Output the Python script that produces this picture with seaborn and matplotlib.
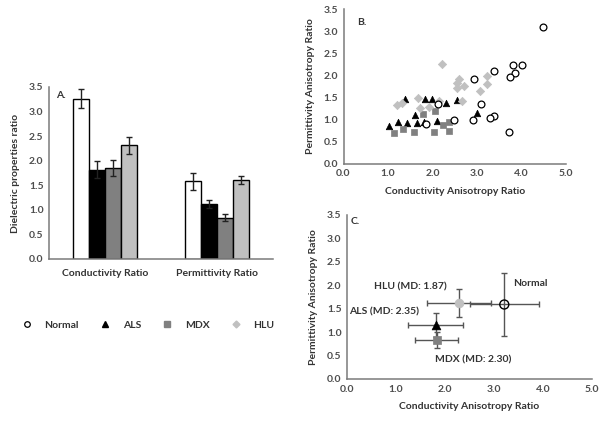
import numpy as np
import pandas as pd
import matplotlib
matplotlib.use("Agg")
import matplotlib.pyplot as plt
from matplotlib.lines import Line2D
import seaborn as sns

sns.set_style("white")
plt.rcParams['font.family'] = ['Lato', 'DejaVu Sans']
plt.rcParams['font.weight'] = 'bold'

# ---------------- data ----------------
groups = ["Normal", "ALS", "MDX", "HLU"]
ratio_categories = ["Conductivity Ratio", "Permittivity Ratio"]
cond_means = [3.26, 1.82, 1.85, 2.31]
cond_err = [0.19, 0.17, 0.16, 0.17]
perm_means = [1.58, 1.12, 0.84, 1.60]
perm_err = [0.18, 0.09, 0.07, 0.08]

normal_x = [4.48, 3.80, 4.00, 3.85, 3.74, 3.39, 2.94, 3.10, 2.12, 3.39, 3.30, 2.92, 2.48, 1.86, 3.72]
normal_y = [3.09, 2.24, 2.24, 2.06, 1.97, 2.10, 1.91, 1.35, 1.36, 1.08, 1.03, 1.00, 0.99, 0.90, 0.71]
als_x = [1.39, 1.83, 1.98, 2.31, 2.56, 1.02, 1.22, 1.43, 1.60, 1.66, 1.80, 2.10, 3.01]
als_y = [1.47, 1.47, 1.47, 1.37, 1.44, 0.86, 0.95, 0.92, 1.10, 0.92, 0.95, 0.97, 1.14]
mdx_x = [1.13, 1.34, 1.58, 1.79, 2.05, 2.03, 2.24, 2.36, 2.36]
mdx_y = [0.69, 0.79, 0.71, 1.13, 1.20, 0.71, 0.88, 0.95, 0.75]
hlu_x = [1.21, 1.32, 1.68, 1.71, 1.92, 2.14, 2.21, 2.59, 2.55, 2.70, 2.55, 3.22, 3.22, 3.07, 2.66]
hlu_y = [1.33, 1.38, 1.48, 1.27, 1.28, 1.43, 2.25, 1.91, 1.84, 1.76, 1.72, 1.99, 1.80, 1.65, 1.41]

mean_x = [3.21, 1.81, 1.83, 2.29]
mean_y = [1.59, 1.15, 0.84, 1.63]
mean_xerr = [0.71, 0.56, 0.44, 0.65]
mean_yerr = [0.68, 0.26, 0.17, 0.30]
c_labels = ["Normal", "ALS (MD: 2.35)", "MDX (MD: 2.30)", "HLU (MD: 1.87)"]

x_ticks = [0.0, 1.0, 2.0, 3.0, 4.0, 5.0]
y_ticks = [0.0, 0.5, 1.0, 1.5, 2.0, 2.5, 3.0, 3.5]

# ---------------- styles ----------------
face = {"Normal": "white", "ALS": "black", "MDX": "#808080", "HLU": "#c0c0c0"}
markers = {"Normal": "o", "ALS": "^", "MDX": "s", "HLU": "D"}
txt = "#333333"
tick_col = "#4d4d4d"
fs = 7.5
fw = "bold"

W, H = 602, 421
fig = plt.figure(figsize=(W / 100, H / 100), dpi=100)
axA = fig.add_axes([49 / W, 1 - 259 / H, (273 - 49) / W, (259 - 87) / H])
axB = fig.add_axes([343.5 / W, 1 - 163.7 / H, (566 - 343.5) / W, (163.7 - 9.3) / H])
axC = fig.add_axes([347 / W, 1 - 379 / H, (592 - 347) / W, (379 - 215) / H])


def style(ax):
    for s in ["top", "right"]:
        ax.spines[s].set_visible(False)
    for s in ["left", "bottom"]:
        ax.spines[s].set_color("#7a7a7a")
        ax.spines[s].set_linewidth(1.1)
    ax.tick_params(length=0, labelsize=fs, colors=tick_col, pad=4)
    for lab in ax.get_xticklabels() + ax.get_yticklabels():
        lab.set_fontweight(fw)


# ---------------- Panel A ----------------
dfA = pd.DataFrame({
    "cat": [ratio_categories[0]] * 4 + [ratio_categories[1]] * 4,
    "group": groups * 2,
    "val": cond_means + perm_means,
    "err": cond_err + perm_err,
})
sns.barplot(data=dfA, x="cat", y="val", hue="group", hue_order=groups,
            palette=face, errorbar=None, width=0.58, ax=axA,
            edgecolor="black", linewidth=1.0, legend=False)
for cont, g in zip(axA.containers, groups):
    sub = dfA[dfA.group == g]
    xs = [p.get_x() + p.get_width() / 2 for p in cont.patches]
    axA.errorbar(xs, sub["val"].values, yerr=sub["err"].values, fmt="none",
                 ecolor="#222222", elinewidth=1.0, capsize=2.5, capthick=1.0)
axA.set_ylim(0, 3.5)
axA.set_xlim(-0.5, 1.5)
axA.set_yticks(y_ticks)
axA.set_yticklabels([f"{v:.1f}" for v in y_ticks])
axA.set_xlabel("")
axA.set_ylabel("Dielectric properties ratio", fontsize=fs, color=txt, fontweight=fw, labelpad=6)
style(axA)
axA.tick_params(axis="x", pad=7, colors=txt)
axA.text(0.03, 0.95, "A.", transform=axA.transAxes, fontsize=fs, color=txt, fontweight=fw, va="center")

# ---------------- Panel B ----------------
dfB = pd.DataFrame({
    "x": normal_x + als_x + mdx_x + hlu_x,
    "y": normal_y + als_y + mdx_y + hlu_y,
    "group": ["Normal"] * len(normal_x) + ["ALS"] * len(als_x) + ["MDX"] * len(mdx_x) + ["HLU"] * len(hlu_x),
})
for g in groups:
    sub = dfB[dfB.group == g]
    if g == "Normal":
        sns.scatterplot(data=sub, x="x", y="y", marker="o", s=24, facecolor="white",
                        edgecolor="black", linewidth=0.9, ax=axB, zorder=3)
    else:
        sns.scatterplot(data=sub, x="x", y="y", marker=markers[g], s=22 if g != "HLU" else 18,
                        color=face[g], edgecolor=face[g], linewidth=0.5, ax=axB, zorder=2)
axB.set_xlim(0, 5)
axB.set_ylim(0, 3.5)
axB.set_xticks(x_ticks)
axB.set_xticklabels([f"{v:.1f}" for v in x_ticks])
axB.set_yticks(y_ticks)
axB.set_yticklabels([f"{v:.1f}" for v in y_ticks])
axB.set_xlabel("Conductivity Anisotropy Ratio", fontsize=fs, color=txt, fontweight=fw, labelpad=6)
axB.set_ylabel("Permittivity Anisotropy Ratio", fontsize=fs, color=txt, fontweight=fw, labelpad=6)
style(axB)
axB.text(0.3, 3.2, "B.", fontsize=fs, color=txt, fontweight=fw, va="center")

# ---------------- Panel C ----------------
dfC = pd.DataFrame({"x": mean_x, "y": mean_y, "xerr": mean_xerr, "yerr": mean_yerr,
                    "group": groups, "label": c_labels})
for _, r in dfC.iterrows():
    axC.errorbar(r.x, r.y, xerr=r.xerr, yerr=r.yerr, fmt="none", ecolor="#555555",
                 elinewidth=1.0, capsize=2.5, capthick=1.0, zorder=1)
for g in groups:
    sub = dfC[dfC.group == g]
    if g == "Normal":
        sns.scatterplot(data=sub, x="x", y="y", marker="o", s=42, facecolor="none",
                        edgecolor="black", linewidth=1.0, ax=axC, zorder=3)
    else:
        mk = {"ALS": "^", "MDX": "s", "HLU": "o"}[g]
        sns.scatterplot(data=sub, x="x", y="y", marker=mk, s=40,
                        color=face[g], edgecolor=face[g], linewidth=0.5, ax=axC, zorder=3)
label_pos = {"Normal": (3.40, 2.04, "left"), "ALS (MD: 2.35)": (0.04, 1.43, "left"),
             "MDX (MD: 2.30)": (1.80, 0.41, "left"), "HLU (MD: 1.87)": (0.55, 1.96, "left")}
for lab in c_labels:
    x, y, ha = label_pos[lab]
    axC.text(x, y, lab, fontsize=fs, color=txt, fontweight=fw, ha=ha, va="center")
axC.set_xlim(0, 5)
axC.set_ylim(0, 3.5)
axC.set_xticks(x_ticks)
axC.set_xticklabels([f"{v:.1f}" for v in x_ticks])
axC.set_yticks(y_ticks)
axC.set_yticklabels([f"{v:.1f}" for v in y_ticks])
axC.set_xlabel("Conductivity Anisotropy Ratio", fontsize=fs, color=txt, fontweight=fw, labelpad=6)
axC.set_ylabel("Permittivity Anisotropy Ratio", fontsize=fs, color=txt, fontweight=fw, labelpad=6)
style(axC)
axC.text(0.08, 3.37, "C.", fontsize=fs, color=txt, fontweight=fw, va="center")

# ---------------- Legend ----------------
handles = [
    Line2D([], [], ls="none", marker="o", markersize=4, markerfacecolor="white", markeredgecolor="black", markeredgewidth=0.9),
    Line2D([], [], ls="none", marker="^", markersize=4.5, color="black"),
    Line2D([], [], ls="none", marker="s", markersize=4, color="#808080"),
    Line2D([], [], ls="none", marker="D", markersize=3.5, color="#c0c0c0"),
]
leg = fig.legend(handles, groups, loc="center", bbox_to_anchor=(148 / W, 1 - 325 / H), ncol=4,
                 frameon=False, fontsize=fs, handletextpad=1.2, columnspacing=2.0, handlelength=1.0)
for t in leg.get_texts():
    t.set_color(txt)
    t.set_fontweight(fw)

fig.savefig("out.png", dpi=100)
